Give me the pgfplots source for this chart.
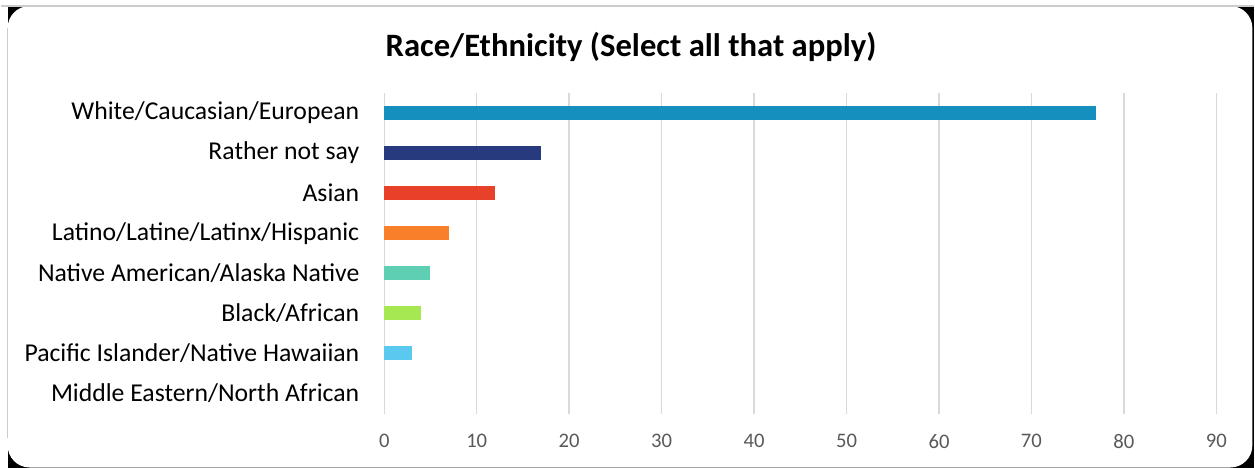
\documentclass[border=0pt]{standalone}
\usepackage{pgfplots}
\pgfplotsset{compat=1.18}
\usepackage{fontspec}
\setmainfont{Carlito}
\definecolor{cWhite}{HTML}{1590BE}
\definecolor{cRather}{HTML}{283A7E}
\definecolor{cAsian}{HTML}{E8412A}
\definecolor{cLatino}{HTML}{F8802A}
\definecolor{cNative}{HTML}{5ECFB2}
\definecolor{cBlack}{HTML}{A6E852}
\definecolor{cPacific}{HTML}{5BC8F0}
\definecolor{gridgray}{HTML}{D9D9D9}
\definecolor{ticklab}{HTML}{595959}
\begin{document}
\begin{tikzpicture}
\begin{scope}[x=0.75pt,y=0.75pt]
\fill[white] (0,0) rectangle (1255,468);
\fill[black] (7,0) rectangle (1255,462);
\fill[white,rounded corners=16.5pt] (7,0) rectangle (1253,462);
\draw[gray!40,line width=1pt] (0,462) -- (1255,462);
\draw[gray!40,line width=0.8pt] (7,30) -- (7,440);
\node[font=\fontsize{24.5}{28}\selectfont\bfseries] at (631,421) {Race/Ethnicity (Select all that apply)};
\coordinate (axorig) at (384,54);
\end{scope}
\begin{axis}[
  at={(axorig)}, anchor=south west,
  scale only axis,
  width=624.75pt, height=240.75pt,
  xbar, bar width=10.5pt, bar shift=0pt,
  xmin=0, xmax=90,
  ymin=-0.5, ymax=7.5,
  xtick={0,10,...,90},
  ytick={0,...,7},
  yticklabels={Middle Eastern/North African, Pacific Islander/Native Hawaiian, Black/African, Native American/Alaska Native, Latino/Latine/Latinx/Hispanic, Asian, Rather not say, White/Caucasian/European},
  xmajorgrids, grid style={gridgray, line width=1.1pt},
  axis line style={draw=none},
  tick style={draw=none},
  /pgf/number format/assume math mode=true,
  yticklabel style={font=\fontsize{19.3}{21}\selectfont, text=black, xshift=-11pt},
  xticklabel style={font=\fontsize{15.5}{17}\selectfont, text=ticklab, yshift=-12pt},
  clip=false,
]
\addplot[fill=cWhite, draw=none] coordinates {(77,7)};
\addplot[fill=cRather, draw=none] coordinates {(17,6)};
\addplot[fill=cAsian, draw=none] coordinates {(12,5)};
\addplot[fill=cLatino, draw=none] coordinates {(7,4)};
\addplot[fill=cNative, draw=none] coordinates {(5,3)};
\addplot[fill=cBlack, draw=none] coordinates {(4,2)};
\addplot[fill=cPacific, draw=none] coordinates {(3,1)};
\end{axis}
\end{tikzpicture}
\end{document}
